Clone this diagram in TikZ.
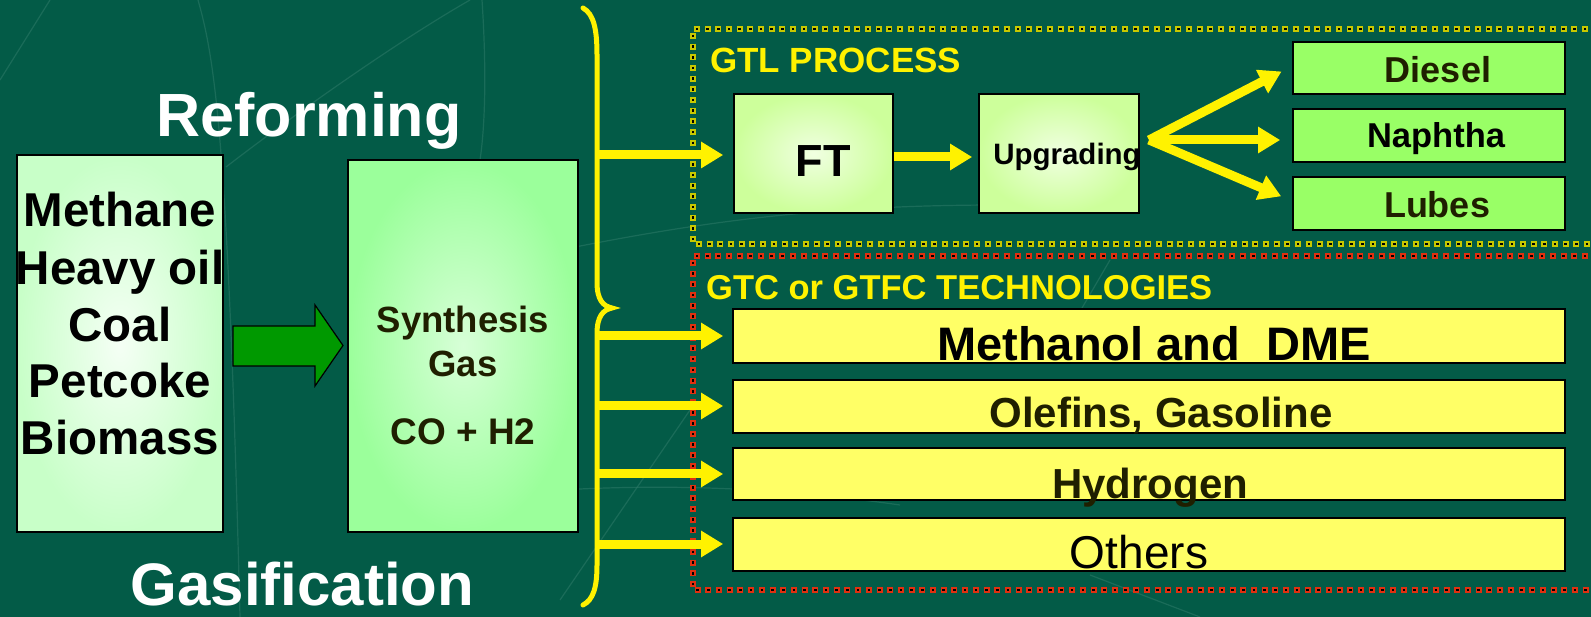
\documentclass[tikz,border=0pt]{standalone}
\usepackage{fontspec}
\setmainfont{Liberation Sans}
\usetikzlibrary{arrows.meta}
\definecolor{bg}{HTML}{035B47}
\definecolor{bgline}{HTML}{2E7A68}
\definecolor{olive}{HTML}{1F1F00}
\definecolor{ybox}{HTML}{FFFF66}
\definecolor{gbox}{HTML}{99FF66}
\definecolor{dotY}{HTML}{C8C800}
\definecolor{dotR}{HTML}{E03010}
\definecolor{garrow}{HTML}{009900}
\begin{document}
\begin{tikzpicture}[x=1pt,y=-1pt,
  box/.style={draw=black, line width=1.6pt, inner sep=0pt},
  lbl/.style={anchor=base, inner sep=0pt},
  yarr/.style={draw=yellow, line width=9pt, -{Triangle[length=22pt,width=25pt]}},
  bgl/.style={draw=bgline, line width=1.2pt, opacity=0.55},
]
\fill[bg] (0,0) rectangle (1591,617);
\useasboundingbox (0,0) rectangle (1591,617);
\clip (0,0) rectangle (1591,617);
% faint background lines
\draw[bgl] (0,80) -- (50,0);
\draw[bgl] (198,0) .. controls (215,60) and (228,140) .. (240,617);
\draw[bgl] (226,167) .. controls (300,110) and (400,40) .. (470,0);
\draw[bgl] (482,0) .. controls (486,60) and (486,120) .. (480,160);
\draw[bgl] (560,250) .. controls (700,222) and (820,205) .. (1000,205);
\draw[bgl] (560,490) .. controls (650,485) and (760,485) .. (900,505);
\draw[bgl] (560,600) -- (690,410);
\draw[bgl] (1090,575) -- (1200,617);
\draw[bgl] (1110,260) -- (1075,320);

% dotted frames
\draw[line width=6pt, dash pattern=on 6pt off 4.7pt, dotY] (1620,29) -- (693,29) -- (693,244) -- (1620,244);
\draw[line width=2.6pt, dash pattern=on 2.6pt off 8.1pt, dash phase=-1.7pt, black] (1620,29) -- (693,29) -- (693,244) -- (1620,244);
\draw[line width=6pt, dash pattern=on 6pt off 4.7pt, dotR] (1620,256) -- (693,256) -- (693,590) -- (1620,590);
\draw[line width=2.6pt, dash pattern=on 2.6pt off 8.1pt, dash phase=-1.7pt, black] (1620,256) -- (693,256) -- (693,590) -- (1620,590);

% titles
\node[lbl, text=white, font=\fontsize{61}{61}\selectfont\bfseries] (reform) at (309,137) {Reforming};
\node[lbl, text=white, font=\fontsize{60}{60}\selectfont\bfseries] (gasif) at (302.5,605) {Gasification};
\node[lbl, anchor=base west, text=yellow, font=\fontsize{35}{35}\selectfont\bfseries] (gtl) at (710,73) {GTL PROCESS};
\node[lbl, anchor=base west, text=yellow, font=\fontsize{34.5}{34.5}\selectfont\bfseries] (gtc) at (706,300) {GTC or GTFC TECHNOLOGIES};

% left feed box
\node[box, minimum width=206pt, minimum height=377pt, inner color=white!80!green!20, outer color={rgb,255:red,200;green,255;blue,200}] (feed) at (120,343.5) {};
\foreach \t/\b [count=\i] in {Methane/227, Heavy oil/285, Coal/342, Petcoke/398, Biomass/455}
  \node[lbl, text=black, font=\fontsize{47.5}{47.5}\selectfont\bfseries] (feed\i) at (120,\b) {\t};

% synthesis gas box
\node[box, minimum width=230pt, minimum height=372pt, inner color={rgb,255:red,215;green,255;blue,215}, outer color={rgb,255:red,155;green,255;blue,155}] (syn) at (463,346) {};
\node[lbl, text=olive, font=\fontsize{36.5}{36.5}\selectfont\bfseries] (syn1) at (463,333) {Synthesis};
\node[lbl, text=olive, font=\fontsize{36.5}{36.5}\selectfont\bfseries] (syn2) at (463,377) {Gas};
\node[lbl, text=olive, font=\fontsize{37}{37}\selectfont\bfseries] (syn3) at (463,445) {CO + H2};

% green block arrow
\draw[fill=garrow, draw=black, line width=1.2pt] (233,326) -- (315,326) -- (315,305) -- (343,345.5) -- (315,386) -- (315,366) -- (233,366) -- cycle;

% brace
\draw[yellow, line width=5pt, line cap=round] (583,8) .. controls (594,14) and (597,30) .. (597,55) -- (597,282) .. controls (597,300) and (603,306) .. (612,308) .. controls (603,310) and (597,316) .. (597,334) -- (597,565) .. controls (597,588) and (593,600) .. (583,605);

% GTL boxes
\node[box, minimum width=159pt, minimum height=119pt, inner color={rgb,255:red,240;green,255;blue,225}, outer color={rgb,255:red,205;green,255;blue,155}] (ft) at (813.5,153.5) {};
\node[lbl, text=black, font=\fontsize{45}{45}\selectfont\bfseries] (ftl) at (823,177) {FT};
\node[box, minimum width=160pt, minimum height=119pt, inner color={rgb,255:red,240;green,255;blue,225}, outer color={rgb,255:red,205;green,255;blue,155}] (upg) at (1059,153.5) {};
\node[lbl, text=black, font=\fontsize{29.5}{29.5}\selectfont\bfseries] (upgl) at (1067,165) {Upgrading};

\node[box, fill=gbox, minimum width=272pt, minimum height=52pt] (diesel) at (1429,68) {};
\node[lbl, text=olive, font=\fontsize{36}{36}\selectfont\bfseries] (diesell) at (1438,83) {Diesel};
\node[box, fill=gbox, minimum width=272pt, minimum height=53pt] (naph) at (1429,135.5) {};
\node[lbl, text=black, font=\fontsize{34.5}{34.5}\selectfont\bfseries] (naphl) at (1436,148) {Naphtha};
\node[box, fill=gbox, minimum width=272pt, minimum height=53pt] (lubes) at (1429,203.5) {};
\node[lbl, text=olive, font=\fontsize{36}{36}\selectfont\bfseries] (lubesl) at (1437,218) {Lubes};

% GTC boxes
\node[box, fill=ybox, minimum width=832pt, minimum height=54pt] (meth) at (1149,336) {};
\node[box, fill=ybox, minimum width=832pt, minimum height=53pt] (olef) at (1149,406.5) {};
\node[box, fill=ybox, minimum width=832pt, minimum height=52pt] (hydro) at (1149,474) {};
\node[box, fill=ybox, minimum width=832pt, minimum height=53pt] (oth) at (1149,544.5) {};
\node[lbl, text=black, font=\fontsize{47}{47}\selectfont\bfseries] (methl) at (1154,361) {Methanol and~~DME};
\node[lbl, text=olive, font=\fontsize{42}{42}\selectfont\bfseries] (olefl) at (1161,428) {Olefins, Gasoline};
\node[lbl, text=olive, font=\fontsize{42}{42}\selectfont\bfseries] (hydrol) at (1150,498) {Hydrogen};
\node[lbl, text=black, font=\fontsize{46}{46}\selectfont] (othl) at (1139,568) {Others};

% brace branch points
\coordinate (b0) at (597,155);
\coordinate (b1) at (597,336);
\coordinate (b2) at (597,406);
\coordinate (b3) at (597,474);
\coordinate (b4) at (597,544);
\coordinate (fan) at (1149,140);

\draw[yarr, shorten >=10pt] (b0) -- (ft.west |- b0);
\draw[yarr, shorten >=9pt] (b1) -- (meth.west |- b1);
\draw[yarr, shorten >=9pt] (b2) -- (olef.west |- b2);
\draw[yarr, shorten >=9pt] (b3) -- (hydro.west |- b3);
\draw[yarr, shorten >=9pt] (b4) -- (oth.west |- b4);

\draw[yarr, shorten >=6pt] (ft.east |- 0,157) -- (upg.west |- 0,157);

\draw[yarr, shorten >=12pt] (fan) -- ([yshift=2pt]diesel.west);
\draw[yarr, shorten >=12pt] (fan) -- (naph.west |- fan);
\draw[yarr, shorten >=12pt] (fan) -- ([yshift=2.5pt]lubes.west);
\end{tikzpicture}
\end{document}
